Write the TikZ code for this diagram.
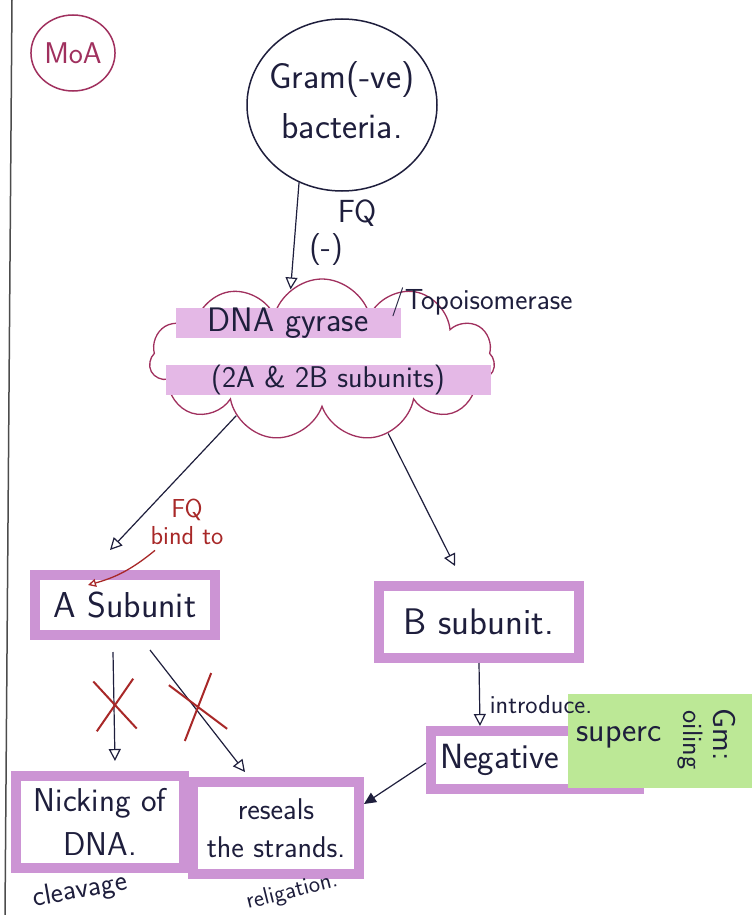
\documentclass[tikz,border=0pt]{standalone}
\usetikzlibrary{arrows.meta,shapes.geometric,shapes.symbols,shapes.misc}

\definecolor{inkblue}{HTML}{1E1E3C}
\definecolor{mauve}{HTML}{A0305E}
\definecolor{hilite}{HTML}{E4B8E6}
\definecolor{boxpurple}{HTML}{CC94D4}
\definecolor{penred}{HTML}{A82828}
\definecolor{sticky}{HTML}{BCE896}

\newcommand{\hand}[2]{\sffamily\fontsize{#1}{#2}\selectfont}

\tikzset{
    subbox/.style={draw=boxpurple, line width=10pt, fill=white, inner sep=0pt, align=center},
    band/.style={fill=hilite, inner sep=0pt, minimum height=27pt},
    arr/.style={draw=inkblue, line width=1.2pt, -{Triangle[open, length=12pt, width=12pt]}},
    redx/.style={cross out, draw=penred, line width=2pt, inner sep=0pt}
}

\begin{document}
\begin{tikzpicture}[x=1pt, y=-1pt, inkblue]
            \useasboundingbox[fill=white] (0,0) rectangle (752,915);
            \draw[black!70, line width=1.5pt] (12,0) -- (5,915);

            % title and start
            \node[ellipse, draw=mauve, line width=1.5pt, text=mauve, font=\hand{30}{34}, minimum width=80pt, minimum height=76pt, inner sep=1pt] (moa) at (73,53) {MoA};
            \node[ellipse, draw=inkblue, line width=1.5pt, minimum width=190pt, minimum height=172pt] (bact) at (342,105) {};
            \node[font=\hand{36}{50}, align=center] (bactlbl) at (342,100) {Gram(-ve)\\bacteria.};

            % enzyme
            \node[cloud, draw=mauve, line width=1.3pt, cloud puffs=11, aspect=2.3, minimum width=345pt, minimum height=162pt] (cloud) at (322,360) {};
            \node[band, minimum width=225pt, font=\hand{34}{40}] (gyr) at (288,323) {DNA gyrase};
            \node[font=\hand{29}{32}, anchor=west, inner sep=0pt] (topo) at (391,302) {/Topoisomerase};
            \node[band, minimum width=325pt, font=\hand{30}{36}] (subs) at (328,380) {(2A \& 2B subunits)};

            \node[font=\hand{32}{36}] (fq) at (357,213) {FQ};
            \node[font=\hand{32}{36}] (minus) at (326,250) {(-)};
            \draw[arr] (bact.241) -- (cloud.114);

            % subunits
            \node[subbox, minimum width=180pt, minimum height=60pt, font=\hand{36}{40}] (asub) at (125,605) {A Subunit};
            \node[subbox, minimum width=200pt, minimum height=72pt, font=\hand{37}{40}] (bsub) at (479,622) {B subunit.};
            \draw[arr] (cloud.213) -- ([xshift=-15pt,yshift=20pt]asub.north);
            \draw[arr] (cloud.312) -- ([xshift=-24pt,yshift=15pt]bsub.north);

            \node[font=\hand{26}{27}, text=penred, align=center] (fqbind) at (187,522) {FQ\\bind to};
            \draw[penred, line width=1.3pt, -{Triangle[open, length=8pt, width=8pt]}] ([xshift=-32pt,yshift=-2pt]fqbind.south) to[bend left=12] ([xshift=-37pt,yshift=-15pt]asub.north);

            % results of A
            \node[subbox, minimum width=168pt, minimum height=92pt, font=\hand{33}{44}] (nick) at (100,822) {Nicking of\\DNA.};
            \node[subbox, minimum width=166pt, minimum height=92pt, font=\hand{30}{38}] (resl) at (276,828) {reseals\\the strands.};
            \draw[arr] ([xshift=-12pt,yshift=-12pt]asub.south) -- ([xshift=15pt,yshift=10pt]nick.north);
            \draw[arr] ([xshift=25pt,yshift=-10pt]asub.south) -- ([xshift=-31pt,yshift=5pt]resl.north);
            \node[redx, minimum width=38pt, minimum height=48pt, rotate=4] (xa) at (115,705) {};
            \node[redx, minimum width=42pt, minimum height=56pt, rotate=16] (xb) at (198,707) {};
            \node[font=\hand{29}{32}, rotate=10] (cleav) at (80,891) {cleavage};
            \node[font=\hand{24}{28}, rotate=14, inner sep=1pt] (relig) at (292,892) {religation.};

            % result of B
            \node[subbox, minimum width=208pt, minimum height=58pt, text width=190pt, align=left, font=\hand{35}{40}] (neg) at (535,760) {Negative};
            \node[fill=sticky, minimum width=184pt, minimum height=94pt, inner sep=0pt] (note) at (660,741) {};
            \node[font=\hand{34}{38}] (superc) at (619,737) {superc};
            \node[font=\hand{28}{30}, rotate=-90] (oil) at (690,740) {oiling};
            \node[font=\hand{32}{36}, rotate=-90] (gm) at (724,735) {Gm:};
            \draw[arr] (bsub.south) -- ([xshift=-55pt]neg.north);
            \node[font=\hand{26}{30}] (intro) at (541,705) {introduce.};
            \draw[draw=inkblue, line width=1.2pt, -{Triangle[length=12pt, width=11pt]}] ([yshift=-3pt]neg.west) -- ([yshift=24pt]resl.east);
        \end{tikzpicture}
\end{document}
